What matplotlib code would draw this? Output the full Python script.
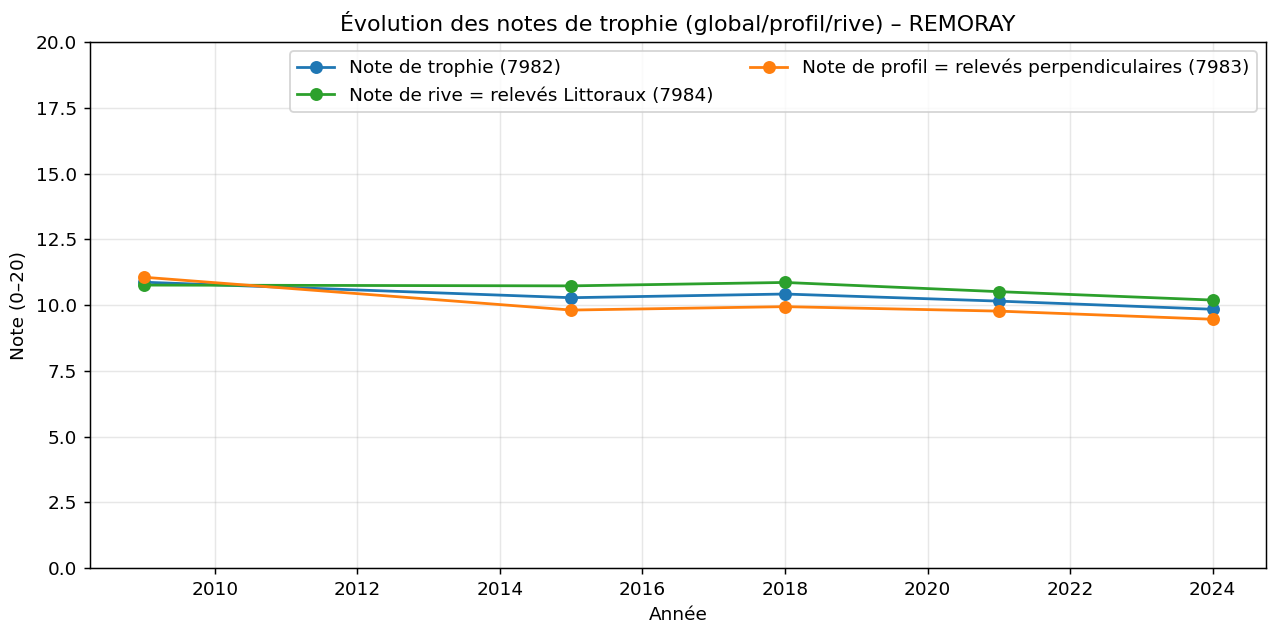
import matplotlib.pyplot as plt

years = [2009, 2015, 2018, 2021, 2024]
note_trophie = [10.87, 10.28, 10.42, 10.15, 9.84]
note_profil = [11.06, 9.81, 9.94, 9.77, 9.46]
note_rive = [10.76, 10.73, 10.86, 10.51, 10.19]

dpi = 133
fig, ax = plt.subplots(figsize=(1279 / dpi, 629 / dpi), dpi=dpi)
ax.plot(years, note_trophie, marker='o', color='#1f77b4', label='Note de trophie (7982)')
ax.plot(years, note_rive, marker='o', color='#2ca02c', label='Note de rive = relevés Littoraux (7984)')
ax.plot(years, note_profil, marker='o', color='#ff7f0e', label='Note de profil = relevés perpendiculaires (7983)')

ax.set_ylim(0, 20)
ax.set_title('Évolution des notes de trophie (global/profil/rive) – REMORAY')
ax.set_xlabel('Année')
ax.set_ylabel('Note (0–20)')
ax.grid(True, alpha=0.3)
ax.legend(ncol=2, loc='upper right')

fig.subplots_adjust(left=0.0704, right=0.990, top=0.933, bottom=0.097)
fig.savefig('out.png', dpi=dpi)
